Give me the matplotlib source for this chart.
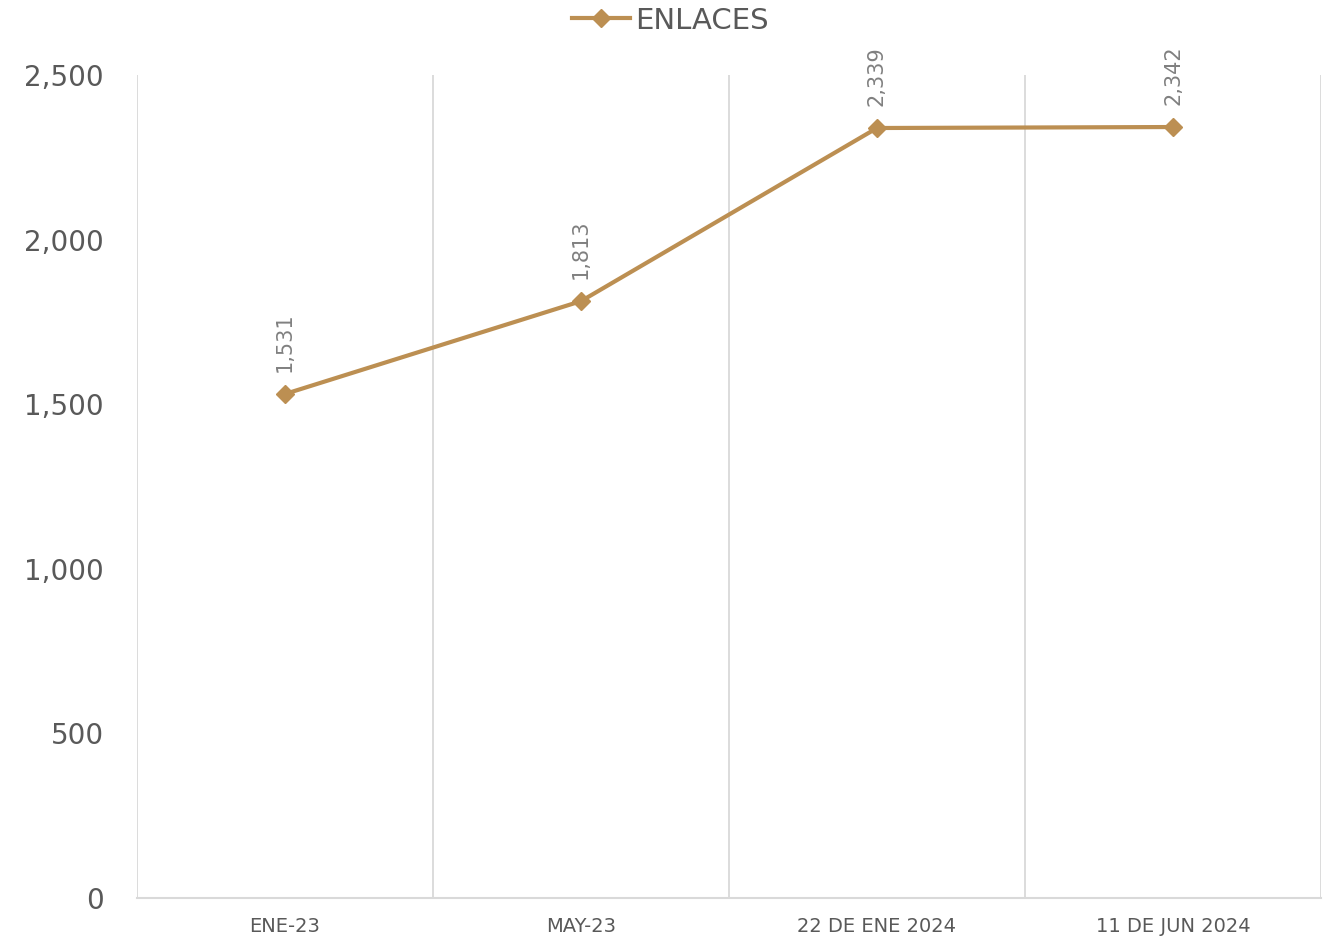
#!/usr/bin/env python3
"""
Enlaces - evolucion temporal
"""

import matplotlib.pyplot as plt
from matplotlib.lines import Line2D

# Datos
periodos = ['ENE-23', 'MAY-23', '22 DE ENE 2024', '11 DE JUN 2024']
enlaces = [1531, 1813, 2339, 2342]
y_ticks = [0, 500, 1000, 1500, 2000, 2500]

ORO = '#BC8F52'
GRIS_TEXTO = '#595959'
GRIS_ETIQUETA = '#808080'
GRIS_GRID = '#D9D9D9'

plt.rcParams['font.family'] = ['DejaVu Sans']

fig = plt.figure(figsize=(13.27, 9.40), dpi=100)
ax = fig.add_axes([0.1032, 0.0447, 0.8923, 0.8755])

x = list(range(len(periodos)))
ax.plot(x, enlaces, color=ORO, linewidth=3, marker='D', markersize=9,
        markeredgecolor=ORO, markerfacecolor=ORO, zorder=3)

# Etiquetas de datos (rotadas)
for xi, v in zip(x, enlaces):
    ax.annotate(f'{v:,}', (xi, v), xytext=(0, 16), textcoords='offset points',
                rotation=90, ha='center', va='bottom', fontsize=15,
                color=GRIS_ETIQUETA)

ax.set_xlim(-0.5, len(periodos) - 0.5)
ax.set_ylim(0, 2500)

# Lineas verticales entre categorias
for b in [i - 0.5 for i in range(len(periodos) + 1)]:
    ax.axvline(b, color=GRIS_GRID, linewidth=1.3, zorder=1)

ax.set_xticks(x)
ax.set_xticklabels(periodos, fontsize=14, color=GRIS_TEXTO)
ax.set_yticks(y_ticks)
ax.set_yticklabels([f'{t:,}' for t in y_ticks], fontsize=20, color=GRIS_TEXTO)
ax.tick_params(axis='both', length=0)
ax.tick_params(axis='y', pad=24)
ax.tick_params(axis='x', pad=14)

for s in ['top', 'right', 'left']:
    ax.spines[s].set_visible(False)
ax.spines['bottom'].set_color(GRIS_GRID)
ax.spines['bottom'].set_linewidth(1.5)

# Leyenda superior
handle = Line2D([0], [0], color=ORO, linewidth=3, marker='D', markersize=9)
fig.legend([handle], ['ENLACES'], loc='center', bbox_to_anchor=(0.505, 0.978),
           frameon=False, fontsize=21, labelcolor=GRIS_TEXTO,
           handlelength=2.0, handletextpad=0.15)

plt.savefig('out.png', dpi=100)
